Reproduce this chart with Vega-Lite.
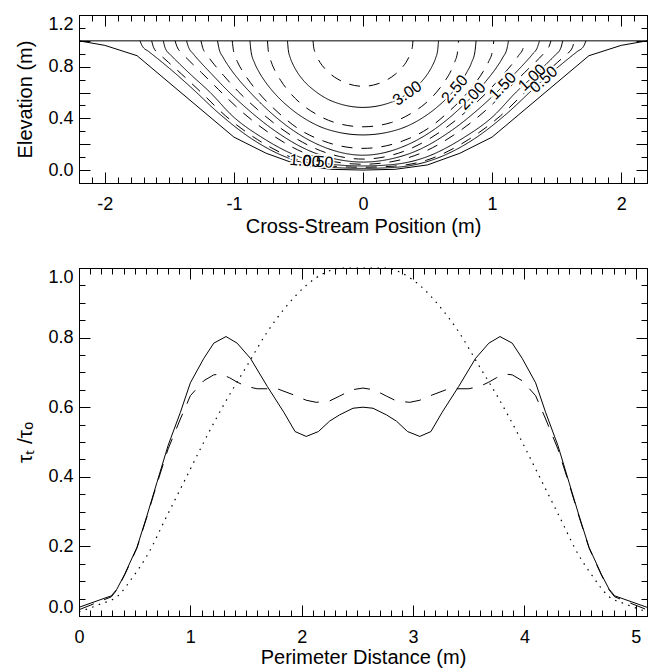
{
  "$schema": "https://vega.github.io/schema/vega-lite/v6.json",
  "padding": {"left": 14, "top": 14, "right": 2, "bottom": 1},
  "spacing": 29,
  "config": {
    "font": "Liberation Sans",
    "view": {"stroke": null},
    "axis": {
      "grid": false,
      "domainColor": "black",
      "tickColor": "black",
      "labelColor": "black",
      "titleColor": "black",
      "labelFont": "Liberation Sans",
      "titleFont": "Liberation Sans",
      "labelFontSize": 18,
      "titleFontSize": 20,
      "titleFontWeight": "normal",
      "domainWidth": 1,
      "tickWidth": 1
    }
  },
  "datasets": {
    "bed": [
      {"part": "bed", "x": -2.2, "y": 1.0}, {"part": "bed", "x": -2.0, "y": 0.965}, {"part": "bed", "x": -1.75, "y": 0.885},
      {"part": "bed", "x": -1.0, "y": 0.255}, {"part": "bed", "x": -0.75, "y": 0.13}, {"part": "bed", "x": -0.5, "y": 0.04},
      {"part": "bed", "x": -0.25, "y": 0.006}, {"part": "bed", "x": 0, "y": 0.0}, {"part": "bed", "x": 0.25, "y": 0.006},
      {"part": "bed", "x": 0.5, "y": 0.04}, {"part": "bed", "x": 0.75, "y": 0.13}, {"part": "bed", "x": 1.0, "y": 0.255},
      {"part": "bed", "x": 1.75, "y": 0.885}, {"part": "bed", "x": 2.0, "y": 0.965}, {"part": "bed", "x": 2.2, "y": 1.0},
      {"part": "surface", "x": -2.2, "y": 1.0}, {"part": "surface", "x": 2.2, "y": 1.0}
    ],
    "iso": [
      {"c": "3.25", "x": -0.387, "y": 1}, {"c": "3.25", "x": -0.383, "y": 0.958}, {"c": "3.25", "x": -0.372, "y": 0.912}, {"c": "3.25", "x": -0.356, "y": 0.875}, {"c": "3.25", "x": -0.333, "y": 0.833}, {"c": "3.25", "x": -0.298, "y": 0.788}, {"c": "3.25", "x": -0.252, "y": 0.743}, {"c": "3.25", "x": -0.194, "y": 0.703}, {"c": "3.25", "x": -0.116, "y": 0.668},
      {"c": "3.25", "x": 0, "y": 0.648},
      {"c": "3.25", "x": 0.116, "y": 0.668}, {"c": "3.25", "x": 0.194, "y": 0.703}, {"c": "3.25", "x": 0.252, "y": 0.743}, {"c": "3.25", "x": 0.298, "y": 0.788}, {"c": "3.25", "x": 0.333, "y": 0.833}, {"c": "3.25", "x": 0.356, "y": 0.875}, {"c": "3.25", "x": 0.372, "y": 0.912}, {"c": "3.25", "x": 0.383, "y": 0.958}, {"c": "3.25", "x": 0.387, "y": 1},

      {"c": "3.00", "x": -0.585, "y": 1}, {"c": "3.00", "x": -0.579, "y": 0.932}, {"c": "3.00", "x": -0.562, "y": 0.865}, {"c": "3.00", "x": -0.538, "y": 0.809}, {"c": "3.00", "x": -0.503, "y": 0.748}, {"c": "3.00", "x": -0.451, "y": 0.682}, {"c": "3.00", "x": -0.38, "y": 0.618}, {"c": "3.00", "x": -0.293, "y": 0.559}, {"c": "3.00", "x": -0.176, "y": 0.511},
      {"c": "3.00", "x": 0, "y": 0.485},
      {"c": "3.00", "x": 0.176, "y": 0.511}, {"c": "3.00", "x": 0.293, "y": 0.559}, {"c": "3.00", "x": 0.38, "y": 0.618}, {"c": "3.00", "x": 0.451, "y": 0.682}, {"c": "3.00", "x": 0.503, "y": 0.748}, {"c": "3.00", "x": 0.538, "y": 0.809}, {"c": "3.00", "x": 0.562, "y": 0.865}, {"c": "3.00", "x": 0.579, "y": 0.932}, {"c": "3.00", "x": 0.585, "y": 1},

      {"c": "2.75", "x": -0.74, "y": 1}, {"c": "2.75", "x": -0.733, "y": 0.918}, {"c": "2.75", "x": -0.71, "y": 0.835}, {"c": "2.75", "x": -0.681, "y": 0.767}, {"c": "2.75", "x": -0.636, "y": 0.691}, {"c": "2.75", "x": -0.57, "y": 0.603}, {"c": "2.75", "x": -0.481, "y": 0.514}, {"c": "2.75", "x": -0.37, "y": 0.437}, {"c": "2.75", "x": -0.222, "y": 0.369},
      {"c": "2.75", "x": 0, "y": 0.335},
      {"c": "2.75", "x": 0.222, "y": 0.369}, {"c": "2.75", "x": 0.37, "y": 0.437}, {"c": "2.75", "x": 0.481, "y": 0.514}, {"c": "2.75", "x": 0.57, "y": 0.603}, {"c": "2.75", "x": 0.636, "y": 0.691}, {"c": "2.75", "x": 0.681, "y": 0.767}, {"c": "2.75", "x": 0.71, "y": 0.835}, {"c": "2.75", "x": 0.733, "y": 0.918}, {"c": "2.75", "x": 0.74, "y": 1},

      {"c": "2.50", "x": -0.876, "y": 1}, {"c": "2.50", "x": -0.867, "y": 0.917}, {"c": "2.50", "x": -0.841, "y": 0.832}, {"c": "2.50", "x": -0.806, "y": 0.76}, {"c": "2.50", "x": -0.753, "y": 0.678}, {"c": "2.50", "x": -0.675, "y": 0.583}, {"c": "2.50", "x": -0.569, "y": 0.483}, {"c": "2.50", "x": -0.438, "y": 0.39}, {"c": "2.50", "x": -0.263, "y": 0.311},
      {"c": "2.50", "x": 0, "y": 0.272},
      {"c": "2.50", "x": 0.263, "y": 0.311}, {"c": "2.50", "x": 0.438, "y": 0.39}, {"c": "2.50", "x": 0.569, "y": 0.483}, {"c": "2.50", "x": 0.675, "y": 0.583}, {"c": "2.50", "x": 0.753, "y": 0.678}, {"c": "2.50", "x": 0.806, "y": 0.76}, {"c": "2.50", "x": 0.841, "y": 0.832}, {"c": "2.50", "x": 0.867, "y": 0.917}, {"c": "2.50", "x": 0.876, "y": 1},

      {"c": "2.25", "x": -1.013, "y": 1}, {"c": "2.25", "x": -1.003, "y": 0.923}, {"c": "2.25", "x": -0.973, "y": 0.839}, {"c": "2.25", "x": -0.932, "y": 0.764}, {"c": "2.25", "x": -0.871, "y": 0.675}, {"c": "2.25", "x": -0.78, "y": 0.566}, {"c": "2.25", "x": -0.659, "y": 0.447}, {"c": "2.25", "x": -0.507, "y": 0.324}, {"c": "2.25", "x": -0.304, "y": 0.224},
      {"c": "2.25", "x": 0, "y": 0.168},
      {"c": "2.25", "x": 0.304, "y": 0.224}, {"c": "2.25", "x": 0.507, "y": 0.324}, {"c": "2.25", "x": 0.659, "y": 0.447}, {"c": "2.25", "x": 0.78, "y": 0.566}, {"c": "2.25", "x": 0.871, "y": 0.675}, {"c": "2.25", "x": 0.932, "y": 0.764}, {"c": "2.25", "x": 0.973, "y": 0.839}, {"c": "2.25", "x": 1.003, "y": 0.923}, {"c": "2.25", "x": 1.013, "y": 1},

      {"c": "2.00", "x": -1.127, "y": 1}, {"c": "2.00", "x": -1.116, "y": 0.943}, {"c": "2.00", "x": -1.082, "y": 0.87}, {"c": "2.00", "x": -1.037, "y": 0.798}, {"c": "2.00", "x": -0.969, "y": 0.708}, {"c": "2.00", "x": -0.868, "y": 0.595}, {"c": "2.00", "x": -0.733, "y": 0.461}, {"c": "2.00", "x": -0.564, "y": 0.323}, {"c": "2.00", "x": -0.338, "y": 0.193},
      {"c": "2.00", "x": 0, "y": 0.115},
      {"c": "2.00", "x": 0.338, "y": 0.193}, {"c": "2.00", "x": 0.564, "y": 0.323}, {"c": "2.00", "x": 0.733, "y": 0.461}, {"c": "2.00", "x": 0.868, "y": 0.595}, {"c": "2.00", "x": 0.969, "y": 0.708}, {"c": "2.00", "x": 1.037, "y": 0.798}, {"c": "2.00", "x": 1.082, "y": 0.87}, {"c": "2.00", "x": 1.116, "y": 0.943}, {"c": "2.00", "x": 1.127, "y": 1},

      {"c": "1.75", "x": -1.255, "y": 1}, {"c": "1.75", "x": -1.243, "y": 0.951}, {"c": "1.75", "x": -1.205, "y": 0.886}, {"c": "1.75", "x": -1.155, "y": 0.82}, {"c": "1.75", "x": -1.079, "y": 0.731}, {"c": "1.75", "x": -0.966, "y": 0.607}, {"c": "1.75", "x": -0.816, "y": 0.468}, {"c": "1.75", "x": -0.628, "y": 0.317}, {"c": "1.75", "x": -0.377, "y": 0.17},
      {"c": "1.75", "x": 0, "y": 0.085},
      {"c": "1.75", "x": 0.377, "y": 0.17}, {"c": "1.75", "x": 0.628, "y": 0.317}, {"c": "1.75", "x": 0.816, "y": 0.468}, {"c": "1.75", "x": 0.966, "y": 0.607}, {"c": "1.75", "x": 1.079, "y": 0.731}, {"c": "1.75", "x": 1.155, "y": 0.82}, {"c": "1.75", "x": 1.205, "y": 0.886}, {"c": "1.75", "x": 1.243, "y": 0.951}, {"c": "1.75", "x": 1.255, "y": 1},

      {"c": "1.50", "x": -1.367, "y": 1}, {"c": "1.50", "x": -1.353, "y": 0.955}, {"c": "1.50", "x": -1.312, "y": 0.896}, {"c": "1.50", "x": -1.258, "y": 0.834}, {"c": "1.50", "x": -1.176, "y": 0.747}, {"c": "1.50", "x": -1.053, "y": 0.619}, {"c": "1.50", "x": -0.889, "y": 0.467}, {"c": "1.50", "x": -0.684, "y": 0.305}, {"c": "1.50", "x": -0.41, "y": 0.147}, {"c": "1.50", "x": -0.205, "y": 0.084},
      {"c": "1.50", "x": 0, "y": 0.062},
      {"c": "1.50", "x": 0.205, "y": 0.084}, {"c": "1.50", "x": 0.41, "y": 0.147}, {"c": "1.50", "x": 0.684, "y": 0.305}, {"c": "1.50", "x": 0.889, "y": 0.467}, {"c": "1.50", "x": 1.053, "y": 0.619}, {"c": "1.50", "x": 1.176, "y": 0.747}, {"c": "1.50", "x": 1.258, "y": 0.834}, {"c": "1.50", "x": 1.312, "y": 0.896}, {"c": "1.50", "x": 1.353, "y": 0.955}, {"c": "1.50", "x": 1.367, "y": 1},

      {"c": "1.25", "x": -1.456, "y": 1}, {"c": "1.25", "x": -1.441, "y": 0.956}, {"c": "1.25", "x": -1.398, "y": 0.9}, {"c": "1.25", "x": -1.34, "y": 0.84}, {"c": "1.25", "x": -1.252, "y": 0.755}, {"c": "1.25", "x": -1.121, "y": 0.625}, {"c": "1.25", "x": -0.946, "y": 0.458}, {"c": "1.25", "x": -0.728, "y": 0.288}, {"c": "1.25", "x": -0.437, "y": 0.126}, {"c": "1.25", "x": -0.218, "y": 0.064},
      {"c": "1.25", "x": 0, "y": 0.045},
      {"c": "1.25", "x": 0.218, "y": 0.064}, {"c": "1.25", "x": 0.437, "y": 0.126}, {"c": "1.25", "x": 0.728, "y": 0.288}, {"c": "1.25", "x": 0.946, "y": 0.458}, {"c": "1.25", "x": 1.121, "y": 0.625}, {"c": "1.25", "x": 1.252, "y": 0.755}, {"c": "1.25", "x": 1.34, "y": 0.84}, {"c": "1.25", "x": 1.398, "y": 0.9}, {"c": "1.25", "x": 1.441, "y": 0.956}, {"c": "1.25", "x": 1.456, "y": 1},

      {"c": "1.00", "x": -1.547, "y": 1}, {"c": "1.00", "x": -1.532, "y": 0.944}, {"c": "1.00", "x": -1.485, "y": 0.886}, {"c": "1.00", "x": -1.423, "y": 0.824}, {"c": "1.00", "x": -1.33, "y": 0.735}, {"c": "1.00", "x": -1.191, "y": 0.608}, {"c": "1.00", "x": -1.006, "y": 0.414}, {"c": "1.00", "x": -0.774, "y": 0.247}, {"c": "1.00", "x": -0.464, "y": 0.092}, {"c": "1.00", "x": -0.232, "y": 0.043},
      {"c": "1.00", "x": 0, "y": 0.032},
      {"c": "1.00", "x": 0.232, "y": 0.043}, {"c": "1.00", "x": 0.464, "y": 0.092}, {"c": "1.00", "x": 0.774, "y": 0.247}, {"c": "1.00", "x": 1.006, "y": 0.414}, {"c": "1.00", "x": 1.191, "y": 0.608}, {"c": "1.00", "x": 1.33, "y": 0.735}, {"c": "1.00", "x": 1.423, "y": 0.824}, {"c": "1.00", "x": 1.485, "y": 0.886}, {"c": "1.00", "x": 1.532, "y": 0.944}, {"c": "1.00", "x": 1.547, "y": 1},

      {"c": "0.75", "x": -1.637, "y": 1}, {"c": "0.75", "x": -1.621, "y": 0.946}, {"c": "0.75", "x": -1.572, "y": 0.893}, {"c": "0.75", "x": -1.506, "y": 0.833}, {"c": "0.75", "x": -1.408, "y": 0.745}, {"c": "0.75", "x": -1.261, "y": 0.608}, {"c": "0.75", "x": -1.064, "y": 0.419}, {"c": "0.75", "x": -0.819, "y": 0.237}, {"c": "0.75", "x": -0.491, "y": 0.076}, {"c": "0.75", "x": -0.246, "y": 0.031},
      {"c": "0.75", "x": 0, "y": 0.022},
      {"c": "0.75", "x": 0.246, "y": 0.031}, {"c": "0.75", "x": 0.491, "y": 0.076}, {"c": "0.75", "x": 0.819, "y": 0.237}, {"c": "0.75", "x": 1.064, "y": 0.419}, {"c": "0.75", "x": 1.261, "y": 0.608}, {"c": "0.75", "x": 1.408, "y": 0.745}, {"c": "0.75", "x": 1.506, "y": 0.833}, {"c": "0.75", "x": 1.572, "y": 0.893}, {"c": "0.75", "x": 1.621, "y": 0.946}, {"c": "0.75", "x": 1.637, "y": 1},

      {"c": "0.50", "x": -1.727, "y": 1}, {"c": "0.50", "x": -1.71, "y": 0.96}, {"c": "0.50", "x": -1.658, "y": 0.916}, {"c": "0.50", "x": -1.589, "y": 0.861}, {"c": "0.50", "x": -1.485, "y": 0.775}, {"c": "0.50", "x": -1.33, "y": 0.638}, {"c": "0.50", "x": -1.123, "y": 0.445}, {"c": "0.50", "x": -0.864, "y": 0.243}, {"c": "0.50", "x": -0.518, "y": 0.072}, {"c": "0.50", "x": -0.259, "y": 0.022},
      {"c": "0.50", "x": 0, "y": 0.013},
      {"c": "0.50", "x": 0.259, "y": 0.022}, {"c": "0.50", "x": 0.518, "y": 0.072}, {"c": "0.50", "x": 0.864, "y": 0.243}, {"c": "0.50", "x": 1.123, "y": 0.445}, {"c": "0.50", "x": 1.33, "y": 0.638}, {"c": "0.50", "x": 1.485, "y": 0.775}, {"c": "0.50", "x": 1.589, "y": 0.861}, {"c": "0.50", "x": 1.658, "y": 0.916}, {"c": "0.50", "x": 1.71, "y": 0.96}, {"c": "0.50", "x": 1.727, "y": 1}
    ],
    "isolabels": [
      {"id": "a", "label": "3.00", "x": 0.343, "y": 0.593},
      {"id": "b", "label": "2.50", "x": 0.711, "y": 0.627},
      {"id": "c", "label": "2.00", "x": 0.846, "y": 0.572},
      {"id": "d", "label": "1.50", "x": 1.083, "y": 0.65},
      {"id": "e", "label": "1.00", "x": 1.31, "y": 0.716},
      {"id": "f", "label": "0.50", "x": 1.4, "y": 0.7}
    ],
    "bedlabels": [
      {"label": "1.00", "x": -0.45, "y": 0.07},
      {"label": "0.50", "x": -0.35, "y": 0.064}
    ],
    "tau": [
      {"s": "s1", "x": 0, "y": 0.025}, {"s": "s1", "x": 0.29, "y": 0.058}, {"s": "s1", "x": 0.34, "y": 0.077}, {"s": "s1", "x": 0.41, "y": 0.12}, {"s": "s1", "x": 0.52, "y": 0.197}, {"s": "s1", "x": 0.61, "y": 0.288}, {"s": "s1", "x": 0.7, "y": 0.384}, {"s": "s1", "x": 0.8, "y": 0.49}, {"s": "s1", "x": 0.91, "y": 0.585}, {"s": "s1", "x": 1.0, "y": 0.67}, {"s": "s1", "x": 1.12, "y": 0.74}, {"s": "s1", "x": 1.21, "y": 0.784}, {"s": "s1", "x": 1.32, "y": 0.803}, {"s": "s1", "x": 1.42, "y": 0.784}, {"s": "s1", "x": 1.54, "y": 0.74}, {"s": "s1", "x": 1.69, "y": 0.66}, {"s": "s1", "x": 1.84, "y": 0.585}, {"s": "s1", "x": 1.94, "y": 0.53}, {"s": "s1", "x": 2.04, "y": 0.516}, {"s": "s1", "x": 2.15, "y": 0.53}, {"s": "s1", "x": 2.25, "y": 0.56}, {"s": "s1", "x": 2.34, "y": 0.578}, {"s": "s1", "x": 2.46, "y": 0.597}, {"s": "s1", "x": 2.55, "y": 0.6}, {"s": "s1", "x": 2.64, "y": 0.597}, {"s": "s1", "x": 2.76, "y": 0.578}, {"s": "s1", "x": 2.85, "y": 0.56}, {"s": "s1", "x": 2.95, "y": 0.53}, {"s": "s1", "x": 3.06, "y": 0.516}, {"s": "s1", "x": 3.16, "y": 0.53}, {"s": "s1", "x": 3.26, "y": 0.585}, {"s": "s1", "x": 3.41, "y": 0.66}, {"s": "s1", "x": 3.56, "y": 0.74}, {"s": "s1", "x": 3.68, "y": 0.784}, {"s": "s1", "x": 3.78, "y": 0.803}, {"s": "s1", "x": 3.89, "y": 0.784}, {"s": "s1", "x": 3.98, "y": 0.74}, {"s": "s1", "x": 4.1, "y": 0.67}, {"s": "s1", "x": 4.19, "y": 0.585}, {"s": "s1", "x": 4.3, "y": 0.49}, {"s": "s1", "x": 4.4, "y": 0.384}, {"s": "s1", "x": 4.49, "y": 0.288}, {"s": "s1", "x": 4.58, "y": 0.197}, {"s": "s1", "x": 4.69, "y": 0.12}, {"s": "s1", "x": 4.76, "y": 0.077}, {"s": "s1", "x": 4.81, "y": 0.058}, {"s": "s1", "x": 5.1, "y": 0.025},
      {"s": "s2", "x": 0, "y": 0.018}, {"s": "s2", "x": 0.29, "y": 0.055}, {"s": "s2", "x": 0.34, "y": 0.075}, {"s": "s2", "x": 0.41, "y": 0.118}, {"s": "s2", "x": 0.52, "y": 0.195}, {"s": "s2", "x": 0.61, "y": 0.285}, {"s": "s2", "x": 0.7, "y": 0.38}, {"s": "s2", "x": 0.8, "y": 0.48}, {"s": "s2", "x": 0.91, "y": 0.566}, {"s": "s2", "x": 1.0, "y": 0.633}, {"s": "s2", "x": 1.12, "y": 0.676}, {"s": "s2", "x": 1.21, "y": 0.693}, {"s": "s2", "x": 1.27, "y": 0.695}, {"s": "s2", "x": 1.35, "y": 0.685}, {"s": "s2", "x": 1.42, "y": 0.672}, {"s": "s2", "x": 1.5, "y": 0.66}, {"s": "s2", "x": 1.6, "y": 0.653}, {"s": "s2", "x": 1.78, "y": 0.653}, {"s": "s2", "x": 1.93, "y": 0.635}, {"s": "s2", "x": 2.04, "y": 0.62}, {"s": "s2", "x": 2.13, "y": 0.614}, {"s": "s2", "x": 2.25, "y": 0.618}, {"s": "s2", "x": 2.34, "y": 0.632}, {"s": "s2", "x": 2.45, "y": 0.65}, {"s": "s2", "x": 2.55, "y": 0.655}, {"s": "s2", "x": 2.65, "y": 0.65}, {"s": "s2", "x": 2.76, "y": 0.632}, {"s": "s2", "x": 2.85, "y": 0.618}, {"s": "s2", "x": 2.97, "y": 0.614}, {"s": "s2", "x": 3.06, "y": 0.62}, {"s": "s2", "x": 3.17, "y": 0.635}, {"s": "s2", "x": 3.32, "y": 0.653}, {"s": "s2", "x": 3.5, "y": 0.653}, {"s": "s2", "x": 3.6, "y": 0.66}, {"s": "s2", "x": 3.68, "y": 0.672}, {"s": "s2", "x": 3.75, "y": 0.685}, {"s": "s2", "x": 3.83, "y": 0.695}, {"s": "s2", "x": 3.89, "y": 0.693}, {"s": "s2", "x": 3.98, "y": 0.676}, {"s": "s2", "x": 4.1, "y": 0.633}, {"s": "s2", "x": 4.19, "y": 0.566}, {"s": "s2", "x": 4.3, "y": 0.48}, {"s": "s2", "x": 4.4, "y": 0.38}, {"s": "s2", "x": 4.49, "y": 0.285}, {"s": "s2", "x": 4.58, "y": 0.195}, {"s": "s2", "x": 4.69, "y": 0.118}, {"s": "s2", "x": 4.76, "y": 0.075}, {"s": "s2", "x": 4.81, "y": 0.055}, {"s": "s2", "x": 5.1, "y": 0.018},
      {"s": "s3", "x": 0, "y": 0.012}, {"s": "s3", "x": 0.19, "y": 0.034}, {"s": "s3", "x": 0.35, "y": 0.058}, {"s": "s3", "x": 0.49, "y": 0.115}, {"s": "s3", "x": 0.61, "y": 0.173}, {"s": "s3", "x": 0.79, "y": 0.288}, {"s": "s3", "x": 0.97, "y": 0.403}, {"s": "s3", "x": 1.15, "y": 0.518}, {"s": "s3", "x": 1.33, "y": 0.624}, {"s": "s3", "x": 1.51, "y": 0.72}, {"s": "s3", "x": 1.69, "y": 0.816}, {"s": "s3", "x": 1.87, "y": 0.893}, {"s": "s3", "x": 2.04, "y": 0.95}, {"s": "s3", "x": 2.2, "y": 0.985}, {"s": "s3", "x": 2.35, "y": 1.0}, {"s": "s3", "x": 2.55, "y": 1.0}, {"s": "s3", "x": 2.75, "y": 1.0}, {"s": "s3", "x": 2.9, "y": 0.985}, {"s": "s3", "x": 3.06, "y": 0.95}, {"s": "s3", "x": 3.23, "y": 0.893}, {"s": "s3", "x": 3.41, "y": 0.816}, {"s": "s3", "x": 3.59, "y": 0.72}, {"s": "s3", "x": 3.77, "y": 0.624}, {"s": "s3", "x": 3.95, "y": 0.518}, {"s": "s3", "x": 4.13, "y": 0.403}, {"s": "s3", "x": 4.31, "y": 0.288}, {"s": "s3", "x": 4.49, "y": 0.173}, {"s": "s3", "x": 4.61, "y": 0.115}, {"s": "s3", "x": 4.75, "y": 0.058}, {"s": "s3", "x": 4.91, "y": 0.034}, {"s": "s3", "x": 5.1, "y": 0.012}
    ]
  },
  "vconcat": [
    {
      "width": 568,
      "height": 168,
      "resolve": {"axis": {"x": "independent", "y": "independent"}},
      "layer": [
        {
          "data": {"name": "bed"},
          "mark": {"type": "line", "color": "black", "strokeWidth": 1, "interpolate": "linear"},
          "encoding": {
            "x": {"field": "x", "type": "quantitative", "scale": {"domain": [-2.2, 2.2], "nice": false, "zero": false},
                  "axis": {"orient": "bottom", "values": [-2, -1, 0, 1, 2], "title": "Cross-Stream Position (m)", "tickSize": -11, "labelPadding": 23, "labelFlush": false, "titlePadding": 3,
                           "labelExpr": "datum.value < 0 ? '-' + abs(datum.value) : '' + datum.value"}},
            "y": {"field": "y", "type": "quantitative", "scale": {"domain": [-0.1, 1.2], "nice": false, "zero": false},
                  "axis": {"orient": "left", "values": [0, 0.2, 0.4, 0.6, 0.8, 1.0, 1.2], "format": ".1f", "title": "Elevation (m)", "tickSize": -11, "labelPadding": 17, "labelFlush": true, "titlePadding": 12}},
            "detail": {"field": "part", "type": "nominal"}
          }
        },
        {
          "data": {"name": "iso"},
          "mark": {"type": "line", "color": "black", "strokeWidth": 1, "interpolate": "monotone"},
          "encoding": {
            "x": {"field": "x", "type": "quantitative", "scale": {"domain": [-2.2, 2.2], "nice": false, "zero": false},
                  "axis": {"orient": "bottom", "values": [-2.2, -2.1, -2, -1.9, -1.8, -1.7, -1.6, -1.5, -1.4, -1.3, -1.2, -1.1, -1, -0.9, -0.8, -0.7, -0.6, -0.5, -0.4, -0.3, -0.2, -0.1, 0, 0.1, 0.2, 0.3, 0.4, 0.5, 0.6, 0.7, 0.8, 0.9, 1, 1.1, 1.2, 1.3, 1.4, 1.5, 1.6, 1.7, 1.8, 1.9, 2, 2.1, 2.2], "labels": false, "title": null, "tickSize": -6}},
            "y": {"field": "y", "type": "quantitative", "scale": {"domain": [-0.1, 1.2], "nice": false, "zero": false},
                  "axis": {"orient": "left", "values": [-0.1, 0, 0.1, 0.2, 0.3, 0.4, 0.5, 0.6, 0.7, 0.8, 0.9, 1.0, 1.1, 1.2], "labels": false, "title": null, "tickSize": -6}},
            "strokeDash": {"field": "c", "type": "nominal", "legend": null,
                           "scale": {"domain": ["0.50", "0.75", "1.00", "1.25", "1.50", "1.75", "2.00", "2.25", "2.50", "2.75", "3.00", "3.25"],
                                     "range": [[1, 0], [11, 9], [1, 0], [11, 9], [1, 0], [11, 9], [1, 0], [11, 9], [1, 0], [11, 9], [1, 0], [11, 9]]}}
          }
        },
        {
          "data": {"name": "isolabels"},
          "mark": {"type": "text", "fontSize": 16, "font": "Liberation Sans", "color": "white", "stroke": "white", "strokeWidth": 4, "align": "center", "baseline": "middle"},
          "encoding": {
            "x": {"field": "x", "type": "quantitative", "scale": {"domain": [-2.2, 2.2], "nice": false, "zero": false},
                  "axis": {"orient": "top", "values": [-2, -1, 0, 1, 2], "labels": false, "title": null, "tickSize": -11}},
            "y": {"field": "y", "type": "quantitative", "scale": {"domain": [-0.1, 1.2], "nice": false, "zero": false},
                  "axis": {"orient": "right", "values": [0, 0.2, 0.4, 0.6, 0.8, 1.0, 1.2], "labels": false, "title": null, "tickSize": -11}},
            "text": {"field": "label"},
            "angle": {"field": "id", "type": "nominal", "legend": null,
                      "scale": {"type": "ordinal", "domain": ["a", "b", "c", "d", "e", "f"], "range": [-34, -50, -46, -46, -43, -42]}}
          }
        },
        {
          "data": {"name": "isolabels"},
          "mark": {"type": "text", "fontSize": 16, "font": "Liberation Sans", "color": "black", "align": "center", "baseline": "middle"},
          "encoding": {
            "x": {"field": "x", "type": "quantitative", "scale": {"domain": [-2.2, 2.2], "nice": false, "zero": false},
                  "axis": {"orient": "top", "values": [-2.2, -2.1, -2, -1.9, -1.8, -1.7, -1.6, -1.5, -1.4, -1.3, -1.2, -1.1, -1, -0.9, -0.8, -0.7, -0.6, -0.5, -0.4, -0.3, -0.2, -0.1, 0, 0.1, 0.2, 0.3, 0.4, 0.5, 0.6, 0.7, 0.8, 0.9, 1, 1.1, 1.2, 1.3, 1.4, 1.5, 1.6, 1.7, 1.8, 1.9, 2, 2.1, 2.2], "labels": false, "title": null, "tickSize": -6}},
            "y": {"field": "y", "type": "quantitative", "scale": {"domain": [-0.1, 1.2], "nice": false, "zero": false},
                  "axis": {"orient": "right", "values": [-0.1, 0, 0.1, 0.2, 0.3, 0.4, 0.5, 0.6, 0.7, 0.8, 0.9, 1.0, 1.1, 1.2], "labels": false, "title": null, "tickSize": -6}},
            "text": {"field": "label"},
            "angle": {"field": "id", "type": "nominal", "legend": null,
                      "scale": {"type": "ordinal", "domain": ["a", "b", "c", "d", "e", "f"], "range": [-34, -50, -46, -46, -43, -42]}}
          }
        },
        {
          "data": {"name": "bedlabels"},
          "mark": {"type": "text", "fontSize": 16, "font": "Liberation Sans", "color": "white", "stroke": "white", "strokeWidth": 3, "align": "center", "baseline": "middle", "angle": 5},
          "encoding": {
            "x": {"field": "x", "type": "quantitative", "scale": {"domain": [-2.2, 2.2], "nice": false, "zero": false}, "axis": null},
            "y": {"field": "y", "type": "quantitative", "scale": {"domain": [-0.1, 1.2], "nice": false, "zero": false}, "axis": null},
            "text": {"field": "label"}
          }
        },
        {
          "data": {"name": "bedlabels"},
          "mark": {"type": "text", "fontSize": 16, "font": "Liberation Sans", "color": "black", "align": "center", "baseline": "middle", "angle": 5},
          "encoding": {
            "x": {"field": "x", "type": "quantitative", "scale": {"domain": [-2.2, 2.2], "nice": false, "zero": false}, "axis": null},
            "y": {"field": "y", "type": "quantitative", "scale": {"domain": [-0.1, 1.2], "nice": false, "zero": false}, "axis": null},
            "text": {"field": "label"}
          }
        },
        {
          "mark": {"type": "text", "text": "A", "fontSize": 21, "font": "Liberation Sans", "color": "black"},
          "encoding": {
            "x": {"datum": 1.89, "type": "quantitative", "scale": {"domain": [-2.2, 2.2], "nice": false, "zero": false}, "axis": null},
            "y": {"datum": 0.48, "type": "quantitative", "scale": {"domain": [-0.1, 1.2], "nice": false, "zero": false}, "axis": null}
          }
        }
      ]
    },
    {
      "width": 568,
      "height": 348,
      "resolve": {"axis": {"x": "independent", "y": "independent"}},
      "layer": [
        {
          "data": {"name": "tau"},
          "transform": [{"filter": "datum.s == 's1'"}],
          "mark": {"type": "line", "color": "black", "strokeWidth": 1, "interpolate": "linear"},
          "encoding": {
            "x": {"field": "x", "type": "quantitative", "scale": {"domain": [0, 5.1], "nice": false, "zero": false},
                  "axis": {"orient": "bottom", "values": [0, 1, 2, 3, 4, 5], "title": "Perimeter Distance (m)", "tickSize": -11, "labelPadding": 23, "labelFlush": false, "titlePadding": 1}},
            "y": {"field": "y", "type": "quantitative", "scale": {"domain": [0, 1], "nice": false, "zero": false},
                  "axis": {"orient": "left", "values": [0, 0.2, 0.4, 0.6, 0.8, 1.0], "format": ".1f", "title": "τₜ /τₒ", "titleFontSize": 21, "tickSize": -11, "labelPadding": 17, "labelFlush": true, "titlePadding": 12}}
          }
        },
        {
          "data": {"name": "tau"},
          "transform": [{"filter": "datum.s == 's2'"}],
          "mark": {"type": "line", "color": "black", "strokeWidth": 1, "interpolate": "linear", "strokeDash": [16, 11]},
          "encoding": {
            "x": {"field": "x", "type": "quantitative", "scale": {"domain": [0, 5.1], "nice": false, "zero": false},
                  "axis": {"orient": "bottom", "values": [0, 0.1, 0.2, 0.3, 0.4, 0.5, 0.6, 0.7, 0.8, 0.9, 1, 1.1, 1.2, 1.3, 1.4, 1.5, 1.6, 1.7, 1.8, 1.9, 2, 2.1, 2.2, 2.3, 2.4, 2.5, 2.6, 2.7, 2.8, 2.9, 3, 3.1, 3.2, 3.3, 3.4, 3.5, 3.6, 3.7, 3.8, 3.9, 4, 4.1, 4.2, 4.3, 4.4, 4.5, 4.6, 4.7, 4.8, 4.9, 5, 5.1], "labels": false, "title": null, "tickSize": -6}},
            "y": {"field": "y", "type": "quantitative", "scale": {"domain": [0, 1], "nice": false, "zero": false},
                  "axis": {"orient": "left", "values": [0, 0.05, 0.1, 0.15, 0.2, 0.25, 0.3, 0.35, 0.4, 0.45, 0.5, 0.55, 0.6, 0.65, 0.7, 0.75, 0.8, 0.85, 0.9, 0.95, 1.0], "labels": false, "title": null, "tickSize": -6}}
          }
        },
        {
          "data": {"name": "tau"},
          "transform": [{"filter": "datum.s == 's3'"}],
          "mark": {"type": "line", "color": "black", "strokeWidth": 1.2, "interpolate": "monotone", "strokeDash": [1.5, 5.5]},
          "encoding": {
            "x": {"field": "x", "type": "quantitative", "scale": {"domain": [0, 5.1], "nice": false, "zero": false},
                  "axis": {"orient": "top", "values": [0, 1, 2, 3, 4, 5], "labels": false, "title": null, "tickSize": -11}},
            "y": {"field": "y", "type": "quantitative", "scale": {"domain": [0, 1], "nice": false, "zero": false},
                  "axis": {"orient": "right", "values": [0, 0.2, 0.4, 0.6, 0.8, 1.0], "labels": false, "title": null, "tickSize": -11}}
          }
        },
        {
          "mark": {"type": "text", "text": "B", "fontSize": 21, "font": "Liberation Sans", "color": "black"},
          "encoding": {
            "x": {"datum": 4.74, "type": "quantitative", "scale": {"domain": [0, 5.1], "nice": false, "zero": false},
                  "axis": {"orient": "top", "values": [0, 0.1, 0.2, 0.3, 0.4, 0.5, 0.6, 0.7, 0.8, 0.9, 1, 1.1, 1.2, 1.3, 1.4, 1.5, 1.6, 1.7, 1.8, 1.9, 2, 2.1, 2.2, 2.3, 2.4, 2.5, 2.6, 2.7, 2.8, 2.9, 3, 3.1, 3.2, 3.3, 3.4, 3.5, 3.6, 3.7, 3.8, 3.9, 4, 4.1, 4.2, 4.3, 4.4, 4.5, 4.6, 4.7, 4.8, 4.9, 5, 5.1], "labels": false, "title": null, "tickSize": -6}},
            "y": {"datum": 0.517, "type": "quantitative", "scale": {"domain": [0, 1], "nice": false, "zero": false},
                  "axis": {"orient": "right", "values": [0, 0.05, 0.1, 0.15, 0.2, 0.25, 0.3, 0.35, 0.4, 0.45, 0.5, 0.55, 0.6, 0.65, 0.7, 0.75, 0.8, 0.85, 0.9, 0.95, 1.0], "labels": false, "title": null, "tickSize": -6}}
          }
        }
      ]
    }
  ]
}
